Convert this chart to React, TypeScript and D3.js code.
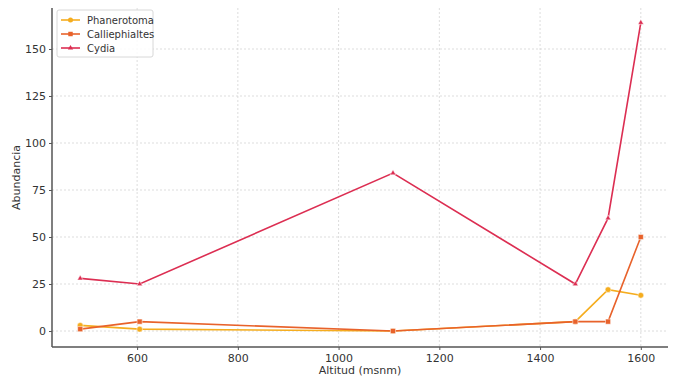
import React, { useEffect, useRef } from 'react';
import * as d3 from 'd3';

const altitudes = [487, 605, 1108, 1470, 1535, 1600];
const phanerotoma = [3, 1, 0, 5, 22, 19];
const calliephialtes = [1, 5, 0, 5, 5, 50];
const cydia = [28, 25, 84, 25, 60, 164];
const xTicks = [600, 800, 1000, 1200, 1400, 1600];
const yTicks = [0, 25, 50, 75, 100, 125, 150];

const seriesList = [
    { name: 'Phanerotoma', values: phanerotoma, color: '#f5ad1f', shape: 'circle' },
    { name: 'Calliephialtes', values: calliephialtes, color: '#e8622b', shape: 'square' },
    { name: 'Cydia', values: cydia, color: '#dc2e52', shape: 'triangle' },
];

const W = 677, H = 381;
const margin = { left: 52, right: 9, top: 8, bottom: 34 };

const App = () => {
    const ref = useRef<SVGSVGElement>(null);

    useEffect(() => {
        const svg = d3.select(ref.current);
        svg.selectAll('*').remove();

        const x = d3.scaleLinear().domain([431, 1654]).range([margin.left, W - margin.right]);
        const y = d3.scaleLinear().domain([-8.5, 171.8]).range([H - margin.bottom, margin.top]);
        const font = 'DejaVu Sans, sans-serif';

        // grid
        const grid = svg.append('g');
        grid.selectAll('.gx').data(xTicks).join('line')
            .attr('x1', d => x(d)).attr('x2', d => x(d))
            .attr('y1', margin.top).attr('y2', H - margin.bottom)
            .attr('stroke', '#d4d4d4').attr('stroke-width', 0.8).attr('stroke-dasharray', '2,2');
        grid.selectAll('.gy').data(yTicks).join('line')
            .attr('x1', margin.left).attr('x2', W - margin.right)
            .attr('y1', d => y(d)).attr('y2', d => y(d))
            .attr('stroke', '#d4d4d4').attr('stroke-width', 0.8).attr('stroke-dasharray', '2,2');

        // axes
        const xAxis = svg.append('g').attr('transform', `translate(0,${H - margin.bottom})`)
            .call(d3.axisBottom(x).tickValues(xTicks).tickSize(3).tickPadding(4).tickFormat(d3.format('d')));
        const yAxis = svg.append('g').attr('transform', `translate(${margin.left},0)`)
            .call(d3.axisLeft(y).tickValues(yTicks).tickSize(3).tickPadding(3).tickFormat(d3.format('d')));
        [xAxis, yAxis].forEach(a => {
            a.select('.domain').attr('stroke', '#555').attr('stroke-width', 1.5);
            a.selectAll('.tick line').attr('stroke', '#555');
            a.selectAll('.tick text').attr('fill', '#333').style('font-family', font).style('font-size', '11px');
        });
        xAxis.select('.domain').attr('d', `M${margin.left},0H${W - margin.right}`);
        yAxis.select('.domain').attr('d', `M0,${margin.top}V${H - margin.bottom}`);

        svg.append('text').attr('x', (margin.left + W - margin.right) / 2).attr('y', H - 7)
            .attr('text-anchor', 'middle').attr('fill', '#333')
            .style('font-family', font).style('font-size', '11px').text('Altitud (msnm)');
        svg.append('text').attr('transform', `translate(20,${(margin.top + H - margin.bottom) / 2}) rotate(-90)`)
            .attr('text-anchor', 'middle').attr('fill', '#333')
            .style('font-family', font).style('font-size', '11px').text('Abundancia');

        const line = d3.line<number>().x((_, i) => x(altitudes[i])).y(d => y(d));
        const symbolOf = (s: string) => s === 'circle' ? d3.symbolCircle : s === 'square' ? d3.symbolSquare : d3.symbolTriangle;

        seriesList.forEach(s => {
            const g = svg.append('g');
            g.append('path').datum(s.values).attr('d', line)
                .attr('fill', 'none').attr('stroke', s.color).attr('stroke-width', 1.6);
            g.selectAll('path.m').data(s.values).join('path').attr('class', 'm')
                .attr('transform', (d, i) => `translate(${x(altitudes[i])},${y(d)})`)
                .attr('d', d3.symbol().type(symbolOf(s.shape)).size(s.shape === 'triangle' ? 14 : 26)())
                .attr('fill', s.color).attr('stroke', '#fff').attr('stroke-width', 0.5);
        });

        // legend
        const lg = svg.append('g').attr('transform', 'translate(57,10)');
        lg.append('rect').attr('width', 96).attr('height', 47).attr('rx', 2)
            .attr('fill', '#fff').attr('fill-opacity', 0.85).attr('stroke', '#d8d8d8');
        seriesList.forEach((s, i) => {
            const row = lg.append('g').attr('transform', `translate(0,${10 + i * 14})`);
            row.append('line').attr('x1', 4).attr('x2', 23).attr('stroke', s.color).attr('stroke-width', 1.6);
            row.append('path').attr('transform', 'translate(13.5,0)')
                .attr('d', d3.symbol().type(symbolOf(s.shape)).size(s.shape === 'triangle' ? 12 : 20)())
                .attr('fill', s.color);
            row.append('text').attr('x', 30).attr('y', 3.5).attr('fill', '#333')
                .style('font-family', font).style('font-size', '10px').text(s.name);
        });
    }, []);

    return <svg ref={ref} width={W} height={H} style={{ position: 'absolute', top: 0, left: 0, background: '#fff' }} />;
};

export default App;
